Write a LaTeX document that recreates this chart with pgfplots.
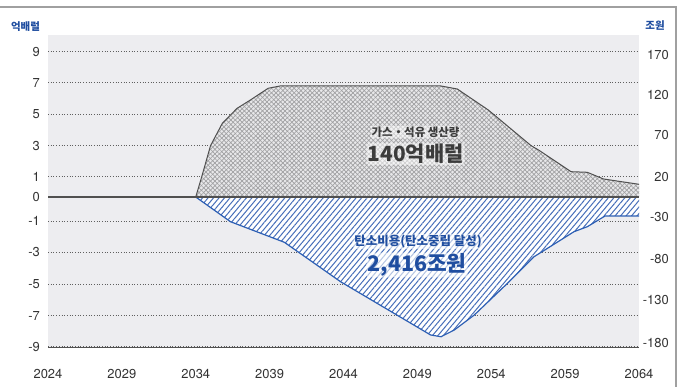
\documentclass[border=0pt]{standalone}
\usepackage{pgfplots}
\pgfplotsset{compat=1.18}
\usepackage{pgfplotstable}
\usepackage{fontspec}
\setmainfont{TeX Gyre Heros}
\newfontfamily\kr{Noto Sans CJK KR}
\usetikzlibrary{patterns.meta}
\definecolor{bgcol}{RGB}{237,237,240}
\definecolor{hatchbg}{RGB}{232,232,234}
\definecolor{hatchfg}{RGB}{160,160,162}
\definecolor{bluel}{RGB}{45,95,180}
\definecolor{blueh}{RGB}{70,110,185}
\definecolor{bluet}{RGB}{32,78,160}
\definecolor{darkline}{RGB}{80,80,80}
\definecolor{gridc}{RGB}{95,95,95}
\definecolor{tickc}{RGB}{50,50,50}
\definecolor{upperc}{RGB}{60,60,60}
\definecolor{framec}{RGB}{160,160,160}

% y values are read in the chart's drawn units (zero line = 0)
\pgfplotstableread{
x y
2034 0
2034.4 20
2035.0 51.3
2035.8 73.7
2036.8 88.7
2037.7 97
2038.9 108.7
2039.7 111
2050.6 111
2051.7 108
2053.8 87
2056.7 51.3
2057.2 47
2059.4 25.3
2060.5 24.7
2061.6 18
2064 12.7
}\proddata

\pgfplotstableread{
x y
2034 0
2036.35 -24.7
2040 -45.3
2043.8 -84.7
2049.9 -138
2050.6 -139.7
2051.5 -133
2052.85 -118
2055.1 -86.3
2056.9 -59.7
2059.6 -34.7
2060.5 -29.7
2061.7 -19
2064 -19
}\costdata

\begin{document}
\begin{tikzpicture}
\path[use as bounding box] (0,0) rectangle (680bp,387bp);
\draw[framec, line width=1.5bp] (0,380bp) -- (676bp,380bp) -- (676bp,0);
\begin{axis}[
  at={(48bp,40bp)}, anchor=south west, scale only axis,
  width=591bp, height=312bp,
  xmin=2024, xmax=2064, ymin=-150, ymax=162,
  axis background/.style={fill=bgcol},
  axis x line*=bottom, axis y line*=left,
  y axis line style={draw=none},
  x axis line style={draw=darkline, line width=1bp, -},
  xtick={2024,2029,2034,2039,2044,2049,2054,2059,2064},
  xticklabels={2024,2029,2034,2039,2044,2049,2054,2059,2064},
  ytick={145.3,114.3,83,51.3,20.3,0,-24,-55.3,-87,-118.7,-149.7},
  yticklabels={9,7,5,3,1,0,-1,-3,-5,-7,-9},
  ymajorgrids,
  grid style={gridc, line width=0.9bp, dash pattern=on 0.9bp off 1.8bp},
  major tick length=0,
  tick label style={font=\fontsize{13}{15}\selectfont, text=tickc},
  yticklabel style={anchor=east, inner sep=0pt, xshift=-8bp},
  xticklabel style={anchor=north, inner sep=0pt, yshift=-22bp},
]
\addplot[draw=none, fill=hatchbg,
  postaction={pattern color=hatchfg, pattern={Lines[angle=45,distance=3.2bp,line width=0.7bp]}},
  postaction={pattern color=hatchfg, pattern={Lines[angle=-45,distance=3.2bp,line width=0.7bp]}}]
  table {\proddata} \closedcycle;
\addplot[draw=darkline, line width=1bp] table {\proddata};
\addplot[draw=none, fill=white,
  postaction={pattern color=blueh, pattern={Lines[angle=50,distance=4.2bp,line width=1bp]}}]
  table {\costdata} \closedcycle;
\addplot[draw=bluel, line width=1.2bp] table {\costdata};
\draw[darkline, line width=1.2bp] (axis cs:2024,0) -- (axis cs:2064,0);

\node[text=upperc, fill=white, fill opacity=0.5, text opacity=1, inner sep=1bp, rounded corners=2bp, font=\kr\bfseries\fontsize{11.5}{13}\selectfont] at (axis cs:2048.88,65) {가스・석유 생산량};
\node[text=upperc, fill=white, fill opacity=0.5, text opacity=1, inner sep=1bp, rounded corners=2bp, font=\kr\bfseries\fontsize{21}{24}\selectfont] at (axis cs:2048.88,43) {140억배럴};
\node[text=bluet, fill=white, fill opacity=0.6, text opacity=1, inner sep=1bp, rounded corners=2bp, font=\kr\bfseries\fontsize{12.5}{14}\selectfont] at (axis cs:2049.05,-44.5) {탄소비용(탄소중립 달성)};
\node[text=bluet, fill=white, fill opacity=0.6, text opacity=1, inner sep=1bp, rounded corners=2bp, font=\kr\bfseries\fontsize{21.5}{24}\selectfont] at (axis cs:2048.98,-68) {2,416조원};
\end{axis}
\begin{axis}[
  at={(48bp,40bp)}, anchor=south west, scale only axis,
  width=591bp, height=312bp,
  xmin=2024, xmax=2064, ymin=-150, ymax=162,
  axis x line=none, axis y line*=right,
  y axis line style={draw=none},
  ytick={142,101.5,62,20,-20,-62,-103,-146},
  yticklabels={170,120,70,20,-30,-80,-130,-180},
  major tick length=0,
  tick label style={font=\fontsize{13}{15}\selectfont, text=tickc},
  yticklabel style={anchor=east, inner sep=0pt, xshift=30bp},
]
\addplot[draw=none] coordinates {(2024,0) (2064,0)};
\end{axis}
\node[text=bluet, font=\kr\bfseries\fontsize{10.5}{12}\selectfont] at (25.5bp,360.3bp) {억배럴};
\node[text=bluet, font=\kr\bfseries\fontsize{10.5}{12}\selectfont] at (655bp,361bp) {조원};
\end{tikzpicture}
\end{document}
